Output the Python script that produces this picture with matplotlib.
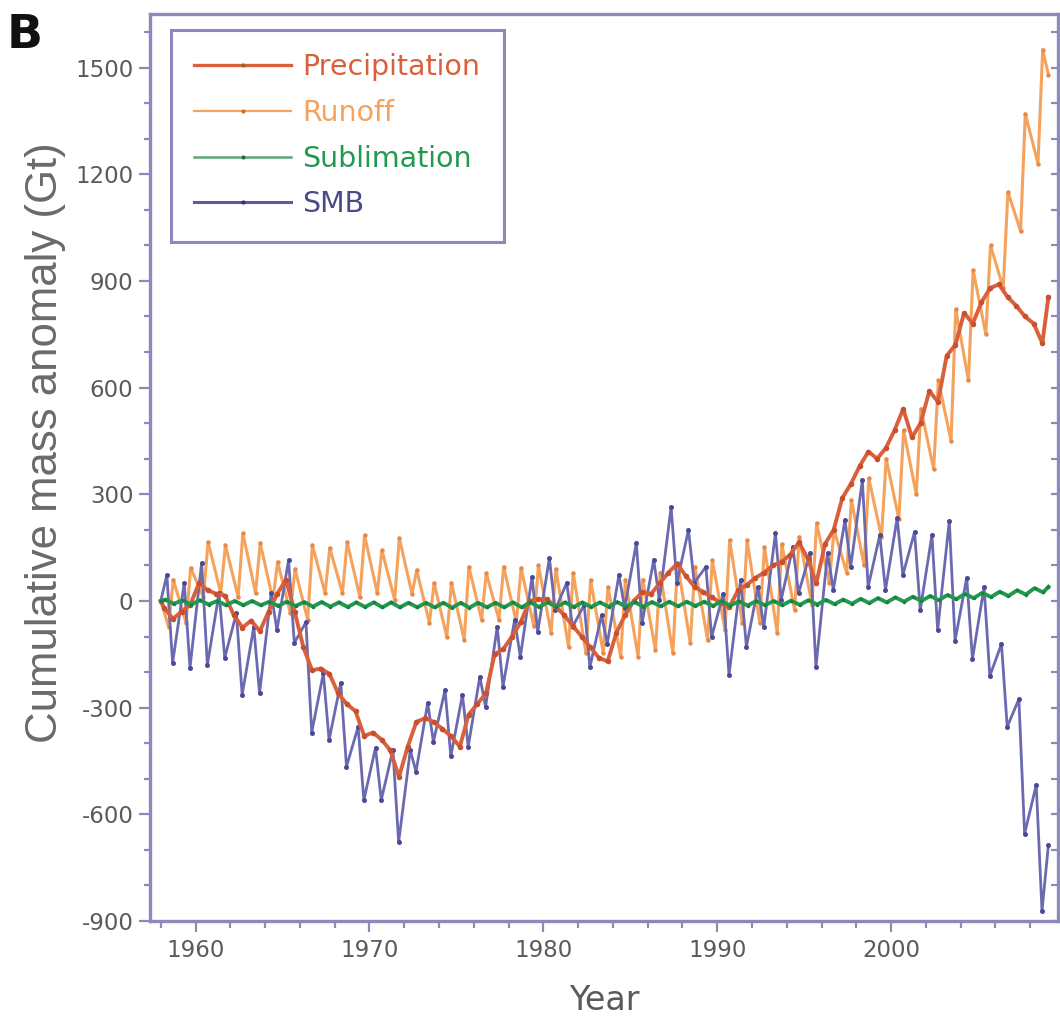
import numpy as np
import matplotlib.pyplot as plt
from matplotlib.ticker import MultipleLocator

plt.rcParams['font.family'] = ['DejaVu Sans']
plt.rcParams['axes.unicode_minus'] = False

# one entry per year, 1958..2008
years = np.arange(1958, 2009)

# SMB: spring high and late-summer low of each year (Gt)
smb_hi = [73, 51, 107, 22, -34, -73, 22, 115, -60, -203,
          -230, -354, -413, -419, -420, -287, -250, -264, -213, -73,
          -53, 67, 121, 51, -11, -40, 73, 163, 115, 264,
          200, 96, 20, 59, 39, 191, 152, 135, 135, 228,
          340, 185, 233, 194, 185, 225, 65, 39, -121, -276,
          -517]
smb_lo = [-174, -188, -180, -160, -264, -260, -82, -118, -370, -391,
          -466, -560, -560, -678, -480, -396, -437, -410, -298, -241,
          -157, -87, -25, -73, -186, -120, -20, -62, 3, 51,
          51, -101, -208, -129, -73, 3, 22, -186, 31, 96,
          39, 31, 73, -25, -82, -112, -163, -211, -354, -655,
          -872]
smb_end = -686

# Runoff: early-summer low and end-of-summer high of each year (Gt)
run_lo = [-73, -62, 10, 22, 11, 22, 3, -34, -53, 22,
          22, 11, 22, 3, 20, -62, -101, -110, -53, -53,
          -60, -70, -90, -129, -146, -146, -157, -157, -138, -146,
          -118, -110, -82, -62, -62, -90, -25, -10, 51, 79,
          100, 180, 230, 300, 370, 450, 620, 750, 880, 1040,
          1230]
run_hi = [60, 93, 166, 157, 191, 163, 110, 90, 157, 149,
          166, 185, 143, 177, 87, 51, 51, 96, 79, 96,
          93, 100, 90, 79, 59, 40, 60, 60, 80, 107,
          96, 115, 171, 171, 152, 160, 180, 219, 200, 284,
          345, 400, 480, 540, 620, 820, 930, 1000, 1150, 1370,
          1550]
run_end = 1480

# Precipitation: first-half and second-half values of each year (Gt)
pre_a = [-20, -30, 50, 20, -40, -55, -30, 60, -130, -190,
         -260, -310, -370, -420, -410, -330, -360, -410, -290, -150,
         -100, 0, 5, -40, -100, -160, -90, 0, 20, 80,
         70, 25, -5, 30, 65, 100, 130, 120, 160, 290,
         380, 400, 480, 460, 590, 690, 810, 840, 890, 830,
         780]
pre_b = [-50, -10, 30, 15, -75, -85, 20, -30, -195, -205,
         -290, -380, -390, -495, -340, -340, -380, -320, -260, -135,
         -60, 5, -15, -70, -130, -170, -40, 25, 50, 105,
         40, 10, -17, 45, 80, 110, 165, 50, 200, 330,
         420, 430, 540, 500, 560, 720, 780, 880, 855, 800,
         725]
pre_end = 855

# Sublimation: high and low of each year (Gt)
sub_hi = [4, 2, 2, 0, 0, 0, -2, -2, -3, -3,
          -4, -4, -4, -4, -5, -5, -5, -5, -5, -5,
          -4, -4, -4, -4, -4, -4, -3, -3, -3, -2,
          -2, -2, -1, -1, 0, 0, 1, 2, 3, 4,
          6, 8, 10, 12, 14, 17, 20, 23, 26, 30,
          36]
sub_lo = [-8, -10, -10, -12, -12, -12, -14, -14, -16, -16,
          -17, -17, -18, -18, -18, -18, -19, -19, -18, -18,
          -18, -17, -17, -17, -17, -16, -16, -16, -15, -15,
          -14, -14, -13, -13, -12, -12, -11, -10, -9, -8,
          -6, -4, -2, 0, 2, 5, 8, 11, 14, 18,
          24]
sub_end = 40


def series(phase_a, vals_a, phase_b, vals_b, end_val):
    t = [1958.0]
    v = [0.0]
    for y, a, b in zip(years, vals_a, vals_b):
        t += [y + phase_a, y + phase_b]
        v += [a, b]
    t.append(2009.05)
    v.append(end_val)
    return np.array(t), np.array(v)


c_pre = '#d9603b'
c_run = '#f5a35c'
c_sub = '#23984f'
c_smb = '#4b4a98'
frame = '#8c8abb'

fig = plt.figure(figsize=(10.6, 10.24), dpi=100)
ax = fig.add_axes([0.1415, 0.1006, 0.8566, 0.8862])

t, v = series(0.45, run_lo, 0.72, run_hi, run_end)
ax.plot(t, v, color=c_run, lw=2.2, marker='o', ms=3.2, mfc='#e8894a', mec='none', zorder=2)
t, v = series(0.35, smb_hi, 0.68, smb_lo, smb_end)
ax.plot(t, v, color='#6b6ab0', lw=2.0, marker='o', ms=3.6, mfc=c_smb, mec='none', zorder=3)
t, v = series(0.2, pre_a, 0.7, pre_b, pre_end)
ax.plot(t, v, color=c_pre, lw=2.8, marker='o', ms=4, mfc='#c9502e', mec='none', zorder=4)
t, v = series(0.25, sub_hi, 0.75, sub_lo, sub_end)
ax.plot(t, v, color=c_sub, lw=2.8, marker='o', ms=2.5, mfc='#17803f', mec='none', zorder=5)

# legend entries
h_pre, = ax.plot([], [], color=c_pre, lw=2.4, marker='o', ms=3, mfc='#8a6a30', mec='none')
h_run, = ax.plot([], [], color=c_run, lw=1.6, marker='o', ms=3, mfc='#d07030', mec='none')
h_sub, = ax.plot([], [], color='#5aa878', lw=1.8, marker='o', ms=3, mfc='#2a6a40', mec='none')
h_smb, = ax.plot([], [], color='#5c5b9e', lw=2.2, marker='o', ms=3, mfc='#333377', mec='none')
leg = ax.legend([h_pre, h_run, h_sub, h_smb],
                ['Precipitation', 'Runoff', 'Sublimation', 'SMB'],
                loc='upper left', bbox_to_anchor=(0.023, 0.982), borderaxespad=0,
                fontsize=20.5, handlelength=3.4, handletextpad=0.4,
                labelspacing=0.62, borderpad=0.82, fancybox=False,
                framealpha=1, edgecolor=frame)
leg.get_frame().set_linewidth(2.2)
for txt, col in zip(leg.get_texts(), [c_pre, c_run, c_sub, '#4b4a88']):
    txt.set_color(col)

ax.set_xlim(1957.38, 2009.6)
ax.set_ylim(-900, 1652)
ax.xaxis.set_major_locator(MultipleLocator(10))
ax.xaxis.set_minor_locator(MultipleLocator(2))
ax.yaxis.set_major_locator(MultipleLocator(300))
ax.yaxis.set_minor_locator(MultipleLocator(100))

for s in ax.spines.values():
    s.set_color(frame)
    s.set_linewidth(2.4)

ax.tick_params(axis='both', which='both', colors=frame, labelcolor='#5a5a5a',
               labelsize=16.5, width=1.6)
ax.tick_params(axis='y', which='major', length=8, pad=4)
ax.tick_params(axis='y', which='minor', length=4)
ax.tick_params(axis='x', which='major', length=8, pad=5)
ax.tick_params(axis='x', which='minor', length=5)

# inward ticks along the right frame
rax = ax.secondary_yaxis('right')
rax.yaxis.set_major_locator(MultipleLocator(100))
rax.tick_params(direction='in', length=5, width=1.6, colors=frame, labelright=False)
rax.spines['right'].set_visible(False)

ax.set_xlabel('Year', fontsize=24, color='#5a5a5a', labelpad=16)
ax.set_ylabel('Cumulative mass anomaly (Gt)', fontsize=31.5, color='#6a6a6a',
              family='Liberation Sans')
ax.yaxis.set_label_coords(-0.093, 0.527)

fig.text(0.006, 0.953, 'B', fontsize=34, fontweight='bold', color='#111111')

fig.savefig('out.png', dpi=100, facecolor='white')
